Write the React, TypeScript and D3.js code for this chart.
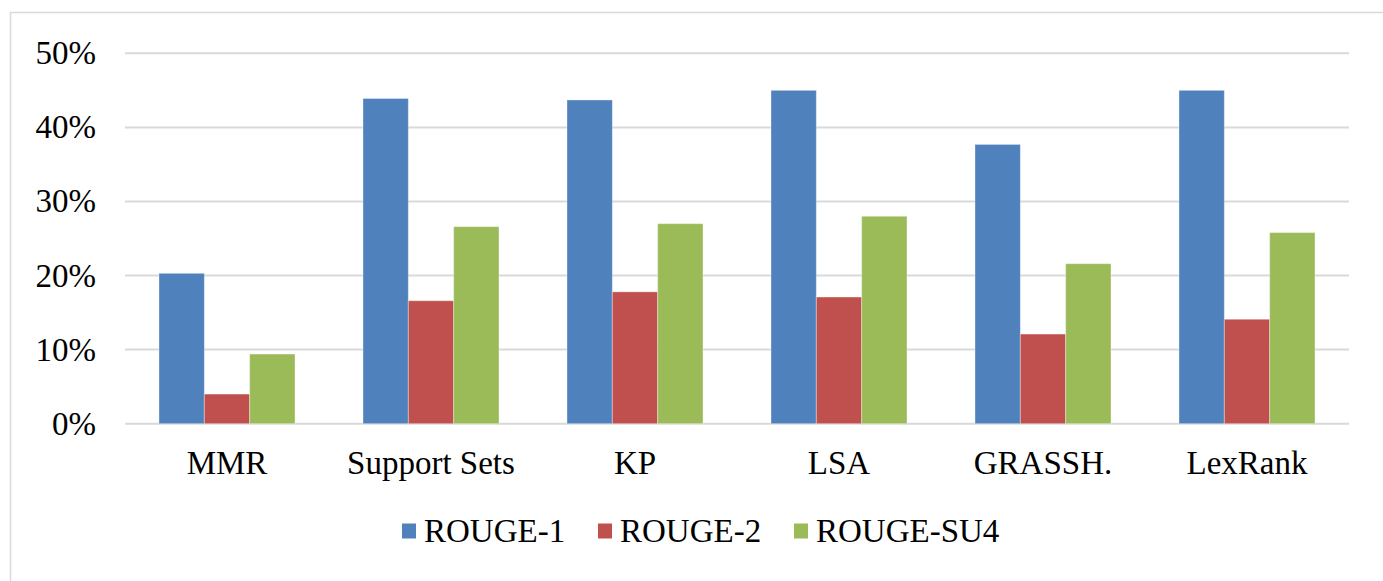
import React from "react";
import * as d3 from "d3";

// Summarisation methods compared
const categories = ["MMR", "Support Sets", "KP", "LSA", "GRASSH.", "LexRank"];

// ROUGE scores (fractions)
const rouge1 = [0.203, 0.439, 0.437, 0.45, 0.377, 0.45];
const rouge2 = [0.04, 0.166, 0.178, 0.171, 0.121, 0.141];
const rougeSU4 = [0.094, 0.266, 0.27, 0.28, 0.216, 0.258];

const seriesNames = ["ROUGE-1", "ROUGE-2", "ROUGE-SU4"];
const seriesColors = ["#4f81bd", "#c0504d", "#9bbb59"];
const yTicks = [0, 0.1, 0.2, 0.3, 0.4, 0.5];

const W = 1383;
const H = 581;
const FONT = "'Liberation Serif', 'Times New Roman', serif";

export default function App() {
  const series = [rouge1, rouge2, rougeSU4];

  const x = d3
    .scaleBand<string>()
    .domain(categories)
    .range([125, 1349])
    .paddingInner(1 / 3)
    .paddingOuter(1 / 6);
  const xInner = d3
    .scaleBand<number>()
    .domain(d3.range(series.length))
    .range([0, x.bandwidth()]);
  const y = d3.scaleLinear().domain([0, 0.5]).range([423.7, 53.3]);
  const fmt = d3.format(".0%");

  // legend layout
  const legendX = [402, 598, 794];
  const legendTextOffset = 22;

  return (
    <svg
      width={W}
      height={H}
      style={{ position: "fixed", left: 0, top: 0, background: "#fff" }}
      fontFamily={FONT}
    >
      <rect x={0} y={0} width={W} height={H} fill="#fff" />
      <rect
        x={10.5}
        y={12.5}
        width={W + 20}
        height={H + 20}
        fill="none"
        stroke="#d9d9d9"
        strokeWidth={1.5}
      />

      {/* gridlines */}
      {yTicks.map((t) => (
        <line
          key={"g" + t}
          x1={125}
          x2={1349}
          y1={y(t)}
          y2={y(t)}
          stroke="#d9d9d9"
          strokeWidth={2}
        />
      ))}

      {/* y tick labels */}
      {yTicks.map((t) => (
        <text
          key={"t" + t}
          x={96}
          y={y(t) + 11}
          textAnchor="end"
          fontSize={33}
          fill="#000"
        >
          {fmt(t)}
        </text>
      ))}

      {/* bars */}
      {categories.map((c, i) => (
        <g key={c} transform={`translate(${x(c)},0)`}>
          {series.map((s, j) => (
            <rect
              key={j}
              x={xInner(j)}
              y={y(s[i])}
              width={xInner.bandwidth()}
              height={y(0) - y(s[i])}
              fill={seriesColors[j]}
              stroke="rgba(255,255,255,0.35)"
              strokeWidth={1}
            />
          ))}
        </g>
      ))}

      {/* category labels */}
      {categories.map((c) => (
        <text
          key={"c" + c}
          x={(x(c) as number) + x.bandwidth() / 2}
          y={474}
          textAnchor="middle"
          fontSize={33}
          fill="#000"
        >
          {c}
        </text>
      ))}

      {/* legend */}
      {seriesNames.map((n, j) => (
        <g key={n}>
          <rect x={legendX[j]} y={523.5} width={14} height={15} fill={seriesColors[j]} />
          <text
            x={legendX[j] + legendTextOffset}
            y={542}
            fontSize={33}
            fill="#000"
          >
            {n}
          </text>
        </g>
      ))}
    </svg>
  );
}
